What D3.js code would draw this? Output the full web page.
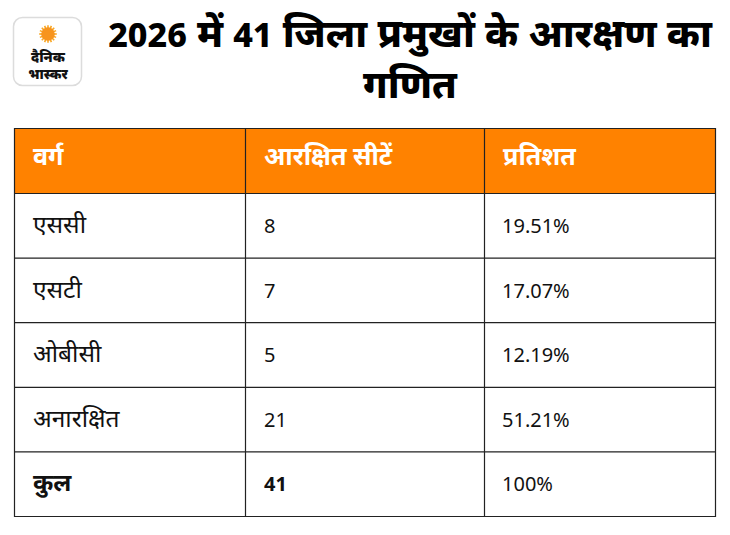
<!DOCTYPE html>
<html>
<head>
<meta charset="utf-8">
<script src="https://cdn.jsdelivr.net/npm/d3@7/dist/d3.min.js"></script>
<style>
html,body{margin:0;padding:0;background:#fff;}
svg{display:block;font-family:"Noto Sans","Noto Sans Devanagari",sans-serif;}
</style>
</head>
<body>
<svg id="chart" width="730" height="535"></svg>
<script>
const titleLines = ["2026 में 41 जिला प्रमुखों के आरक्षण का", "गणित"];
const columns = ["वर्ग", "आरक्षित सीटें", "प्रतिशत"];
const categories = ["एससी", "एसटी", "ओबीसी", "अनारक्षित", "कुल"];
const seats = [8, 7, 5, 21, 41];
const percents = ["19.51%", "17.07%", "12.19%", "51.21%", "100%"];

(function () {
const svg = d3.select("#chart");

// write mixed text: Latin/digit runs at base size, Devanagari runs scaled up
function mixed(sel, str, base, devScale) {
  const runs = String(str).match(/[0-9%.]+|[^0-9%.]+/g) || [];
  sel.selectAll("tspan").data(runs).join("tspan")
    .attr("font-size", r => /^[0-9%.]+$/.test(r) ? base : base * devScale)
    .text(r => r);
}

// Logo
const logo = svg.append("g");
logo.append("rect").attr("x", 13.5).attr("y", 17.5).attr("width", 68).attr("height", 68)
  .attr("rx", 9).attr("fill", "#fff").attr("stroke", "#dcdcdc").attr("stroke-width", 1.5);
const sun = logo.append("g").attr("transform", "translate(48,34)");
sun.selectAll("line").data(d3.range(16)).join("line")
  .attr("x1", 0).attr("y1", 0)
  .attr("x2", d => 8.8 * Math.cos(d * Math.PI / 8))
  .attr("y2", d => 8.8 * Math.sin(d * Math.PI / 8))
  .attr("stroke", "#f9a825").attr("stroke-width", 1.6);
sun.append("circle").attr("r", 6.8).attr("fill", "#f7941d");
logo.append("text").attr("x", 48).attr("y", 62).attr("text-anchor", "middle")
  .attr("font-size", 14).attr("font-weight", 900).attr("fill", "#111").text("दैनिक");
logo.append("text").attr("x", 48).attr("y", 78.5).attr("text-anchor", "middle")
  .attr("font-size", 13.5).attr("font-weight", 900).attr("fill", "#111").text("भास्कर");

// Title
svg.append("g").selectAll("text").data(titleLines).join("text")
  .attr("x", 410).attr("y", (d, i) => 47 + i * 51)
  .attr("text-anchor", "middle").attr("font-weight", 800)
  .attr("fill", "#000")
  .each(function (d) { mixed(d3.select(this), d, 34, 1.15); });

// Table
const tLeft = 14, tRight = 715, tTop = 128, headerH = 65, tBottom = 516;
const colEdges = [tLeft, 245, 484, tRight];
const y = d3.scaleBand().domain(d3.range(categories.length)).range([tTop + headerH, tBottom]);

const tbl = svg.append("g");
tbl.append("rect").attr("x", tLeft).attr("y", tTop).attr("width", tRight - tLeft).attr("height", headerH)
  .attr("fill", "#ff8200");
tbl.selectAll("text.hdr").data(columns).join("text").attr("class", "hdr")
  .attr("x", (d, i) => colEdges[i] + 19).attr("y", tTop + 37)
  .attr("font-size", 25).attr("font-weight", 700).attr("fill", "#fff").text(d => d);

const rows = categories.map((c, i) => ({c, s: seats[i], p: percents[i], i}));
const rg = tbl.selectAll("g.row").data(rows).join("g").attr("class", "row")
  .attr("transform", d => `translate(0,${y(d.i)})`);
const isTotal = d => d.i === categories.length - 1;
rg.append("text").attr("x", colEdges[0] + 19).attr("y", 40)
  .attr("font-size", 24.5).attr("font-weight", d => isTotal(d) ? 700 : 400).attr("fill", "#111").text(d => d.c);
rg.append("text").attr("x", colEdges[1] + 19).attr("y", 40)
  .attr("font-size", 20).attr("font-weight", d => isTotal(d) ? 700 : 400).attr("fill", "#111").text(d => d.s);
rg.append("text").attr("x", colEdges[2] + 18).attr("y", 40)
  .attr("font-size", 20).attr("font-weight", 400).attr("fill", "#111").text(d => d.p);

// Grid lines
const hLines = [tTop, tTop + headerH].concat(rows.map(d => y(d.i) + y.bandwidth()));
tbl.selectAll("line.h").data(hLines).join("line").attr("class", "h")
  .attr("x1", tLeft).attr("x2", tRight + 1).attr("y1", d => d + 0.5).attr("y2", d => d + 0.5)
  .attr("stroke", "#222").attr("stroke-width", 1.2);
tbl.selectAll("line.v").data(colEdges).join("line").attr("class", "v")
  .attr("x1", d => d + 0.5).attr("x2", d => d + 0.5).attr("y1", tTop).attr("y2", tBottom + 1)
  .attr("stroke", "#222").attr("stroke-width", 1.2);
})();
</script>
</body>
</html>
